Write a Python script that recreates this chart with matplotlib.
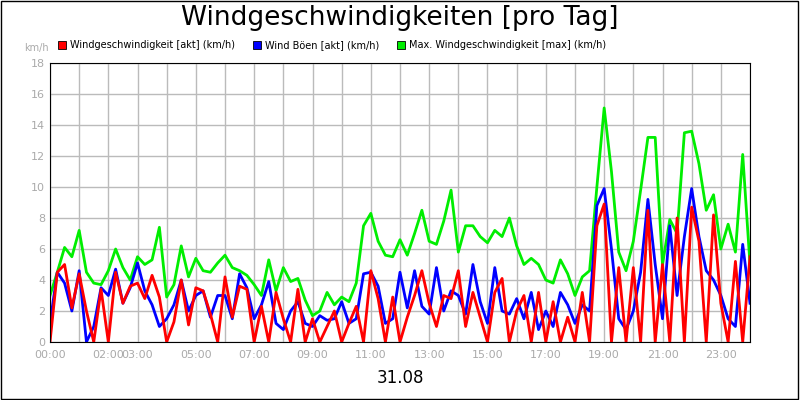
import numpy as np
import matplotlib.pyplot as plt
from matplotlib.patches import Rectangle

# Werte im 15-Minuten-Raster (Stunden 0..24)
hours = np.arange(0, 24.01, 0.25)

wind_max = [3.0, 4.5, 6.1, 5.5, 7.2, 4.5, 3.8, 3.7, 4.6, 6.0, 4.8, 4.0,
            5.5, 5.0, 5.3, 7.4, 2.9, 3.7, 6.2, 4.2, 5.4, 4.6, 4.5, 5.1,
            5.6, 4.8, 4.6, 4.3, 3.7, 3.0, 5.3, 3.3, 4.8, 3.9, 4.1, 2.7,
            1.7, 2.0, 3.2, 2.4, 2.9, 2.6, 3.8, 7.5, 8.3, 6.5, 5.6, 5.5,
            6.6, 5.6, 7.0, 8.5, 6.5, 6.3, 7.8, 9.8, 5.8, 7.5, 7.5, 6.8,
            6.4, 7.2, 6.8, 8.0, 6.2, 5.0, 5.4, 5.0, 4.0, 3.8, 5.3, 4.4,
            3.0, 4.2, 4.6, 10.0, 15.1, 11.0, 5.8, 4.6, 6.5, 9.8, 13.2, 13.2,
            5.0, 7.9, 7.0, 13.5, 13.6, 11.5, 8.5, 9.5, 6.0, 7.6, 5.8, 12.1,
            5.0]

wind_boeen = [1.2, 4.5, 3.8, 2.0, 4.6, 0.0, 1.0, 3.5, 3.0, 4.7, 2.5, 3.5,
              5.1, 3.3, 2.4, 1.0, 1.5, 2.4, 4.0, 2.0, 3.0, 3.3, 1.6, 3.0,
              3.0, 1.5, 4.4, 3.5, 1.5, 2.4, 3.9, 1.2, 0.8, 2.0, 2.6, 1.2,
              1.0, 1.7, 1.4, 1.5, 2.6, 1.2, 1.5, 4.4, 4.5, 3.6, 1.2, 1.5,
              4.5, 2.2, 4.6, 2.3, 1.8, 4.8, 2.0, 3.3, 3.0, 1.8, 5.0, 2.6,
              1.2, 4.8, 2.0, 1.8, 2.8, 1.5, 3.2, 0.8, 2.0, 1.0, 3.2, 2.4,
              1.2, 2.4, 2.0, 8.8, 9.9, 6.0, 1.5, 0.8, 2.0, 4.5, 9.2, 5.0,
              1.5, 7.5, 3.0, 6.8, 9.9, 6.8, 4.6, 4.0, 3.0, 1.5, 1.0, 6.3,
              2.5]

wind_akt = [0.0, 4.5, 5.0, 2.2, 4.4, 2.0, 0.0, 3.4, 0.0, 4.5, 2.5, 3.6,
            3.8, 2.8, 4.3, 2.9, 0.0, 1.3, 4.0, 1.1, 3.5, 3.3, 1.8, 0.0,
            4.2, 1.6, 3.6, 3.4, 0.0, 2.3, 0.0, 3.2, 1.5, 0.0, 3.4, 0.0,
            1.5, 0.0, 1.0, 2.0, 0.0, 1.2, 2.3, 0.0, 4.6, 2.8, 0.0, 2.9,
            0.0, 1.6, 3.0, 4.6, 2.5, 1.0, 3.0, 2.8, 4.6, 1.0, 3.2, 1.6,
            0.0, 3.2, 4.1, 0.0, 2.0, 3.0, 0.0, 3.2, 0.0, 2.6, 0.0, 1.6,
            0.0, 3.2, 0.0, 7.5, 8.9, 0.0, 4.8, 0.0, 4.8, 0.0, 8.5, 0.0,
            5.0, 0.0, 8.0, 0.0, 8.7, 6.5, 0.0, 8.2, 2.5, 0.0, 5.2, 0.0,
            5.5]

tick_hours = [0, 2, 3, 5, 7, 9, 11, 13, 15, 17, 19, 21, 23]
tick_labels = ["%02d:00" % h for h in tick_hours]

fig = plt.figure(figsize=(8, 4), dpi=100)
fig.patches.append(Rectangle((0.001, 0.002), 0.997, 0.996, transform=fig.transFigure,
                             fill=False, edgecolor="black", linewidth=1))
ax = fig.add_axes([0.0625, 0.145, 0.875, 0.6975])

ax.plot(hours, wind_max, color="#00ee00", linewidth=2)
ax.plot(hours, wind_boeen, color="#0000ff", linewidth=2)
ax.plot(hours, wind_akt, color="#ff0000", linewidth=2)

ax.set_xlim(0, 24)
ax.set_ylim(0, 18)
ax.set_yticks(np.arange(0, 19, 2))
ax.set_xticks(np.arange(0, 25, 1), minor=True)
ax.set_xticks(tick_hours)
ax.set_xticklabels(tick_labels)
ax.tick_params(colors="#aaaaaa", labelsize=8, length=0, which="both")
ax.tick_params(axis="x", pad=6)
ax.grid(True, which="both", color="#bbbbbb", linewidth=1)
ax.set_axisbelow(True)
for s in ax.spines.values():
    s.set_color("black")

fig.text(0.5, 0.955, "Windgeschwindigkeiten [pro Tag]", ha="center", va="center", fontsize=19)
fig.text(0.5, 0.055, "31.08", ha="center", va="center", fontsize=12)
fig.text(0.03, 0.88, "km/h", ha="left", va="center", fontsize=7, color="#aaaaaa")

legend_items = [("#ff0000", "Windgeschwindigkeit [akt] (km/h)", 0.072),
                ("#0000ff", "Wind Böen [akt] (km/h)", 0.316),
                ("#00ee00", "Max. Windgeschwindigkeit [max] (km/h)", 0.496)]
for col, txt, x in legend_items:
    fig.patches.append(Rectangle((x, 0.877), 0.01, 0.02, transform=fig.transFigure,
                                 facecolor=col, edgecolor="black", linewidth=0.6))
    fig.text(x + 0.015, 0.887, txt, ha="left", va="center", fontsize=7)

fig.savefig("out.png")
